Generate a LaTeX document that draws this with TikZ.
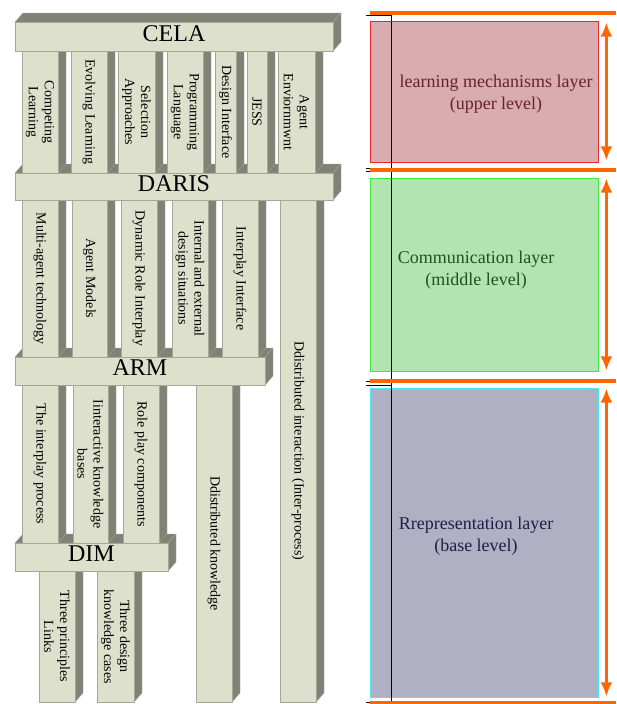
\documentclass[tikz,border=0pt]{standalone}
\usepackage{fontspec}
\setmainfont{Liberation Serif}
\usetikzlibrary{arrows.meta}

\definecolor{facelight}{RGB}{221,224,203}
\definecolor{facedark}{RGB}{127,130,117}
\definecolor{edgegray}{RGB}{165,168,152}
\definecolor{upfill}{RGB}{216,172,176}
\definecolor{upline}{RGB}{235,40,40}
\definecolor{uptext}{RGB}{105,35,40}
\definecolor{midfill}{RGB}{178,228,178}
\definecolor{midline}{RGB}{60,235,60}
\definecolor{midtext}{RGB}{35,80,35}
\definecolor{basefill}{RGB}{176,176,196}
\definecolor{basedraw}{RGB}{70,235,245}
\definecolor{basetext}{RGB}{30,30,70}
\definecolor{sizeorange}{RGB}{255,102,0}

% pillar: name, left, right, top, bottom, text
\newcommand{\pillar}[6]{%
  \filldraw[sideface] (#3,#5) -- (#3+8,#5-9) -- (#3+8,#4-9) -- (#3,#4) -- cycle;
  \filldraw[frontface] (#2,#4) rectangle (#3,#5);
  \node[pillartext] (#1) at ({(#2+#3)/2},{(#4+#5)/2}) {#6};
}
% cross bar: name, left, right, top, bottom, text
\newcommand{\crossbar}[6]{%
  \filldraw[sideface] (#2,#4) -- (#2+8,#4-9) -- (#3+8,#4-9) -- (#3,#4) -- cycle;
  \filldraw[sideface] (#3,#4) -- (#3+8,#4-9) -- (#3+8,#5-9) -- (#3,#5) -- cycle;
  \filldraw[frontface] (#2,#4) rectangle (#3,#5);
  \node[bartext] (#1) at ({(#2+#3)/2},{(#4+#5)/2-3}) {#6};
}

\begin{document}
\begin{tikzpicture}[x=1pt,y=-1pt]
\tikzstyle{frontface}=[fill=facelight,draw=edgegray,line width=0.5pt]
\tikzstyle{sideface}=[fill=facedark,draw=edgegray,line width=0.4pt]
\tikzstyle{pillartext}=[rotate=-90,align=center,inner sep=0pt,font=\fontsize{14}{16}\selectfont]
\tikzstyle{bartext}=[inner sep=0pt,font=\fontsize{24}{28}\selectfont]
\tikzstyle{layer}=[rectangle,line width=0.8pt,minimum width=228pt,inner sep=0pt]
\tikzstyle{layertext}=[align=center,font=\fontsize{18}{22}\selectfont]
\tikzstyle{darrow}=[sizeorange,line width=2.6pt,{Latex[length=14pt,width=12pt]}-{Latex[length=14pt,width=12pt]}]
\tikzstyle{sep}=[sizeorange,line width=4pt]
\useasboundingbox (0,0) rectangle (616,704);

% DIM level
\pillar{m1}{39}{75}{571}{702}{Three principles\\Links}
\pillar{m2}{97}{134}{571}{702}{Three design\\knowledge cases}
\crossbar{dim}{15}{168}{543}{571}{DIM}
% ARM level
\pillar{a1}{22}{58}{385}{543}{The interplay process}
\pillar{a2}{73}{108}{385}{543}{Iinteractive knowledge\\bases}
\pillar{a3}{123}{159}{385}{543}{Role play components}
\pillar{a4}{196}{232}{385}{702}{Ddistributed knowledge}
\crossbar{arm}{15}{265}{357}{385}{ARM}
% DARIS level
\pillar{d1}{22}{58}{200}{357}{Multi-agent technology}
\pillar{d2}{72}{107}{200}{357}{Agent Models}
\pillar{d3}{121}{157}{200}{357}{Dynamic Role Interplay}
\pillar{d4}{172}{208}{200}{357}{Internal and external\\design situations}
\pillar{d5}{222}{258}{200}{357}{Interplay Interface}
\pillar{d6}{280}{316}{200}{702}{Ddistributed interaction (Inter-process)}
\crossbar{daris}{15}{333}{173}{200}{DARIS}
% CELA level
\pillar{c1}{22}{58}{51}{173}{Competing\\Learning}
\pillar{c2}{71}{107}{51}{173}{Evolving Learning}
\pillar{c3}{118}{155}{51}{173}{Selection\\Approaches}
\pillar{c4}{167}{203}{51}{173}{Programming\\Language}
\pillar{c5}{215}{236}{51}{173}{Design Interface}
\pillar{c6}{247}{267}{51}{173}{JESS}
\pillar{c7}{278}{315}{51}{173}{Agent\\Enviornmwnt}
\crossbar{cela}{15}{333}{22}{51}{CELA}

% layers
\node[layer,fill=upfill,draw=upline,minimum height=141pt](upper) at (484,91.5) {};
\node[layer,fill=midfill,draw=midline,minimum height=193pt](middle) at (484,274.5) {};
\node[layer,fill=basefill,draw=basedraw,minimum height=309pt](base) at (484,542.5) {};
\node[layertext,text=uptext](uptxt) at (496,94) {learning mechanisms layer\\(upper level)};
\node[layertext,text=midtext](midtxt) at (476,270) {Communication layer\\(middle level)};
\node[layertext,text=basetext](basetxt) at (476,536) {Rrepresentation layer\\(base level)};

% bracket
\draw[black,line width=0.8pt] (366,15) -- (391,15) -- (391,702) -- (366,702);
\draw[black,line width=0.6pt] (366,168) -- (372,168) (366,171) -- (372,171);
\draw[black,line width=0.6pt] (366,381) -- (391,381) (366,385) -- (391,385);
\draw[sep] (370,13) -- (616,13);
\draw[sep] (370,170) -- (616,170);
\draw[sep] (370,381) -- (616,381);
\draw[sep] (370,703) -- (616,703);

\draw[darrow] ([xshift=8pt,yshift=-2pt]upper.north east) -- ([xshift=8pt,yshift=2pt]upper.south east);
\draw[darrow] ([xshift=8pt,yshift=-1pt]middle.north east) -- ([xshift=8pt,yshift=1pt]middle.south east);
\draw[darrow] ([xshift=8pt,yshift=-1pt]base.north east) -- ([xshift=8pt,yshift=1pt]base.south east);
\end{tikzpicture}
\end{document}
